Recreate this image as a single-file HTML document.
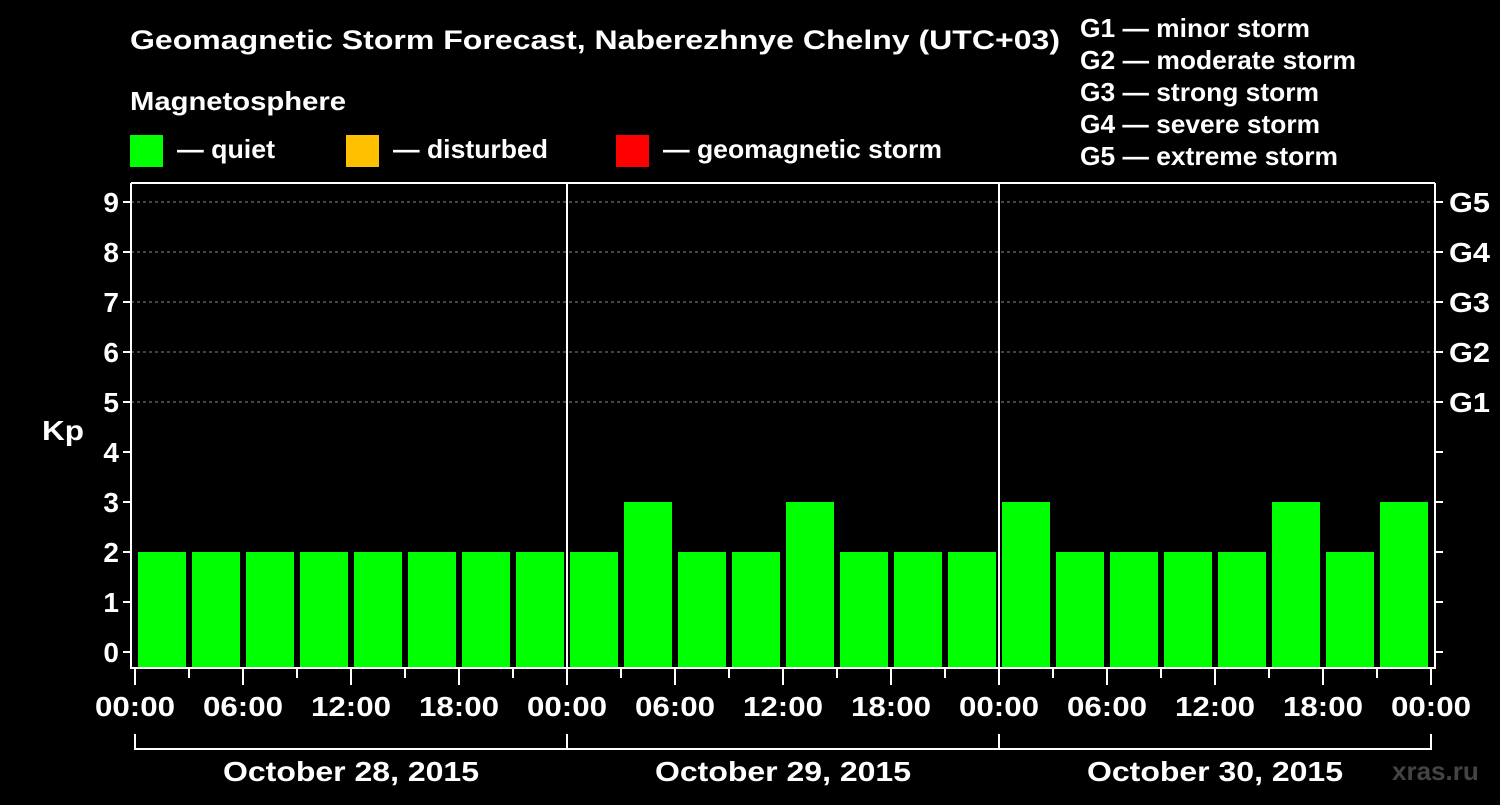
<!DOCTYPE html>
<html><head><meta charset="utf-8"><style>
body{margin:0;background:#000;width:1500px;height:800px;overflow:hidden}
svg text{font-family:"Liberation Sans",sans-serif;font-weight:bold;fill:#fff}
</style></head><body>
<svg id="c" width="1500" height="800">
<text x="130" y="49" font-size="27" textLength="930" lengthAdjust="spacingAndGlyphs">Geomagnetic Storm Forecast, Naberezhnye Chelny (UTC+03)</text>
<text x="130" y="110" font-size="26" textLength="216" lengthAdjust="spacingAndGlyphs">Magnetosphere</text>
<rect x="130" y="135" width="33" height="32" fill="#00ff00"/>
<text x="177" y="158" font-size="26" textLength="98" lengthAdjust="spacingAndGlyphs">— quiet</text>
<rect x="346" y="135" width="33" height="32" fill="#ffc000"/>
<text x="393" y="158" font-size="26" textLength="155" lengthAdjust="spacingAndGlyphs">— disturbed</text>
<rect x="616" y="135" width="33" height="32" fill="#ff0000"/>
<text x="663" y="158" font-size="26" textLength="279" lengthAdjust="spacingAndGlyphs">— geomagnetic storm</text>
<g font-size="26">
<text x="1080" y="37" textLength="230" lengthAdjust="spacingAndGlyphs">G1 — minor storm</text>
<text x="1080" y="69" textLength="276" lengthAdjust="spacingAndGlyphs">G2 — moderate storm</text>
<text x="1080" y="101" textLength="239" lengthAdjust="spacingAndGlyphs">G3 — strong storm</text>
<text x="1080" y="133" textLength="240" lengthAdjust="spacingAndGlyphs">G4 — severe storm</text>
<text x="1080" y="165" textLength="258" lengthAdjust="spacingAndGlyphs">G5 — extreme storm</text>
</g>
<text x="42" y="440" font-size="28" textLength="42" lengthAdjust="spacingAndGlyphs">Kp</text>
<text x="1392" y="780" font-size="26" fill="#444" style="fill:#444">xras.ru</text>
<g id="plot"></g>
</svg>
<script>
const days = ["October 28, 2015","October 29, 2015","October 30, 2015"];
const kpValues = [2,2,2,2,2,2,2,2, 2,3,2,2,3,2,2,2, 3,2,2,2,2,3,2,3];
const yTicks = [0,1,2,3,4,5,6,7,8,9];
const gLabels = ["G1","G2","G3","G4","G5"];
const hourLabels = ["00:00","06:00","12:00","18:00"];

const NS="http://www.w3.org/2000/svg";
const g=document.getElementById('plot');
const X0=135, DAYW=432, L=131, R=1435, T=183, B=668;
const xh = h => X0 + h*DAYW/24;
const y = k => 652 - 50*k;
function mk(tag, attrs, parent){const e=document.createElementNS(NS,tag);for(const k in attrs)e.setAttribute(k,attrs[k]);(parent||g).appendChild(e);return e;}
function color(k){return k>=5?"#ff0000":k>=4?"#ffc000":"#00ff00";}

yTicks.forEach(k=>{
  if(k>=5){const l=mk('line',{x1:L,x2:R,y1:y(k),y2:y(k),stroke:'#888','stroke-dasharray':'3,3','stroke-width':1});
  
  }
  const t=mk('line',{x1:L-8,x2:L,y1:y(k),y2:y(k),stroke:'#fff','stroke-width':2});
  
  
  const t2=mk('line',{x1:R,x2:R+8,y1:y(k),y2:y(k),stroke:'#fff','stroke-width':2});
  
  
  const lb=mk('text',{x:L-12,y:y(k)+10,'font-size':28,'text-anchor':'end'});
  lb.textContent=k;
  
  
});
gLabels.forEach((s,i)=>{
  const lb=mk('text',{x:R+14,y:y(5+i)+10,'font-size':28,textLength:41,lengthAdjust:'spacingAndGlyphs'});
  lb.textContent=s;
  
  
});
kpValues.forEach((k,i)=>{
  const b=mk('rect',{x:xh(i*3)+3,y:y(k),width:DAYW/8-6,height:B-y(k),fill:color(k)});
  
  
});
mk('line',{x1:L,x2:L,y1:T,y2:B+1,stroke:'#fff','stroke-width':2});
mk('line',{x1:R,x2:R,y1:T,y2:B+1,stroke:'#fff','stroke-width':2});
mk('line',{x1:L,x2:R,y1:T,y2:T,stroke:'#fff','stroke-width':2});
mk('line',{x1:L,x2:R,y1:B,y2:B,stroke:'#fff','stroke-width':2});
for(let d=1;d<days.length;d++){const l=mk('line',{x1:xh(d*24),x2:xh(d*24),y1:T,y2:B,stroke:'#fff','stroke-width':2});

}
for(let h=0;h<=days.length*24;h+=3){
  const major=h%6===0;
  mk('line',{x1:xh(h),x2:xh(h),y1:B,y2:major?685:678,stroke:'#fff','stroke-width':2});
  if(major){const lb=mk('text',{x:xh(h),y:716,'font-size':28,'text-anchor':'middle',textLength:80,lengthAdjust:'spacingAndGlyphs'});
  lb.textContent=hourLabels[(h/6)%4];
  
  }
}
days.forEach((d,i)=>{
  const a=xh(i*24), b=xh((i+1)*24);
  mk('path',{d:`M${a} 734V749H${b}V734`,stroke:'#fff','stroke-width':2,fill:'none'});
  const lb=mk('text',{x:(a+b)/2,y:781,'font-size':28,'text-anchor':'middle',textLength:256,lengthAdjust:'spacingAndGlyphs'});
  lb.textContent=d;
  
  
});
</script>
</body></html>
